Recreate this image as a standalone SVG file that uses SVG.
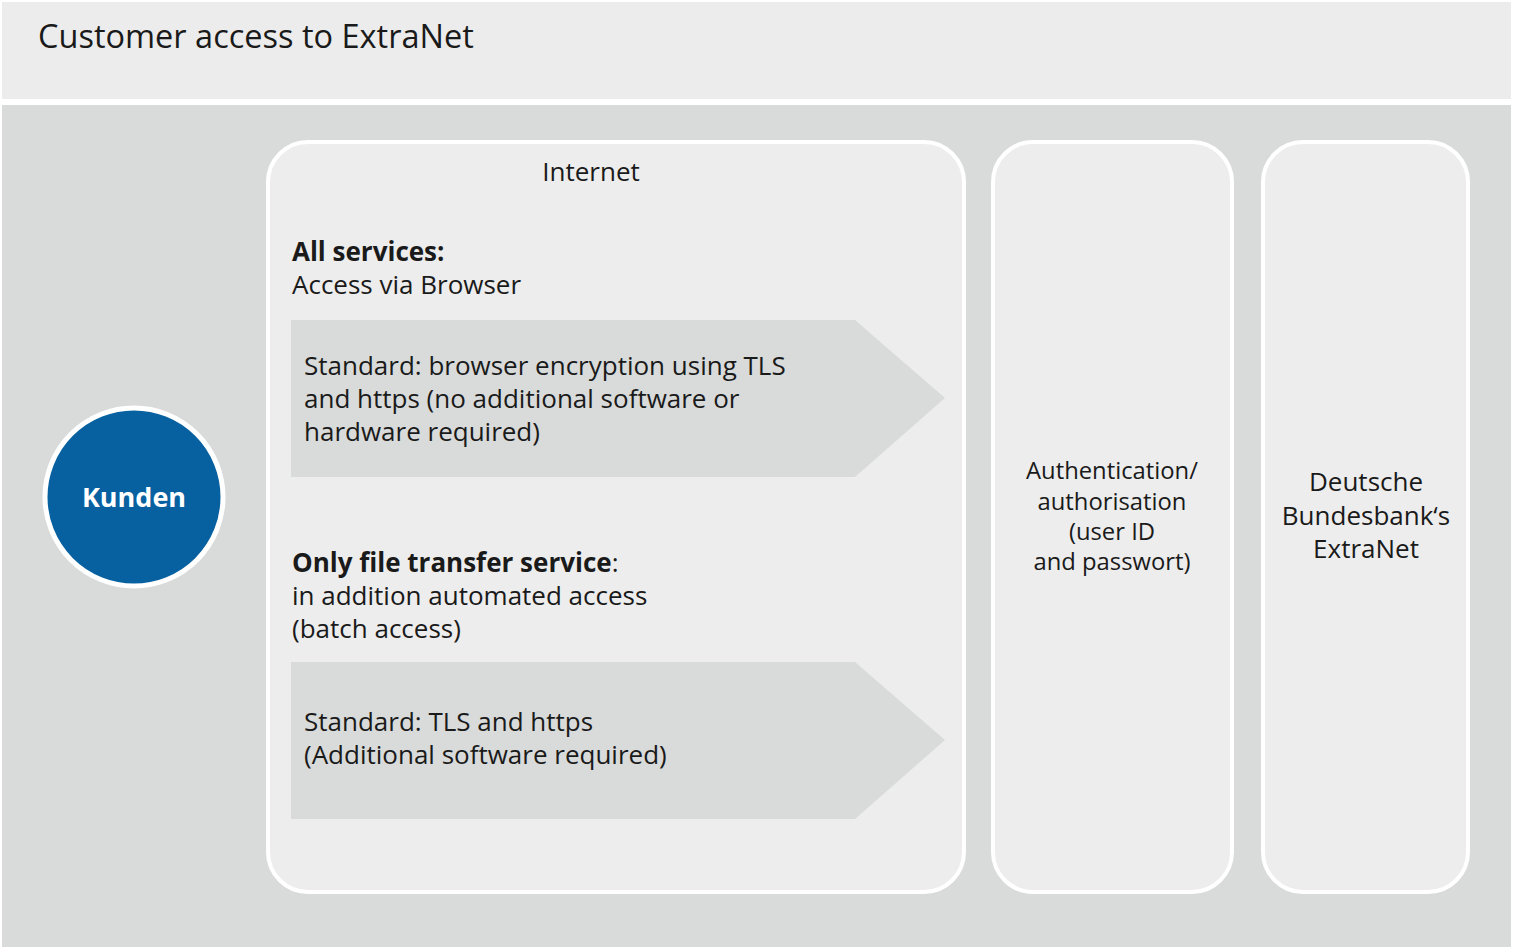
<svg xmlns="http://www.w3.org/2000/svg" width="1513" height="949" viewBox="0 0 1513 949">
<style>
text{font-family:"Open Sans","Noto Sans",sans-serif;fill:#1a1a1a;font-size:26px}
.b{font-weight:bold}
.box{fill:#ededed;stroke:#fff;stroke-width:4}
.arr{fill:#d9dbda}
.c{text-anchor:middle}
</style>
<rect x="0" y="0" width="1513" height="949" fill="#fff"/>
<rect x="2" y="2" width="1509" height="97" fill="#ececec"/>
<rect x="2" y="105" width="1509" height="842" fill="#d9dbda"/>
<text x="38" y="48" style="font-size:32.5px">Customer access to ExtraNet</text>
<g id="kunden">
<circle cx="134" cy="497" r="89" fill="#0761a1" stroke="#fff" stroke-width="5"/>
<text x="134" y="507" class="c b" style="fill:#fff;font-size:27px">Kunden</text>
</g>
<g id="internet">
<rect class="box" x="268" y="142" width="696" height="750" rx="40"/>
<text x="591" y="181" class="c">Internet</text>
<text x="292" y="261"><tspan class="b">All services:</tspan><tspan x="292" dy="33">Access via Browser</tspan></text>
<text x="292" y="572"><tspan class="b">Only file transfer service</tspan>:<tspan x="292" dy="33">in addition automated access</tspan><tspan x="292" dy="33">(batch access)</tspan></text>
</g>
<g id="arrow1">
<polygon class="arr" points="291,320 855,320 945,398 855,477 291,477"/>
<text x="304" y="375">Standard: browser encryption using TLS<tspan x="304" dy="33">and https (no additional software or</tspan><tspan x="304" dy="33">hardware required)</tspan></text>
</g>
<g id="arrow2">
<polygon class="arr" points="291,662 855,662 945,740 855,819 291,819"/>
<text x="304" y="731">Standard: TLS and https<tspan x="304" dy="33">(Additional software required)</tspan></text>
</g>
<g id="auth">
<rect class="box" x="993" y="142" width="239" height="750" rx="40"/>
<text x="1112" y="479" class="c" style="font-size:23.8px">Authentication/<tspan x="1112" dy="31">authorisation</tspan><tspan x="1112" dy="30">(user ID</tspan><tspan x="1112" dy="30">and passwort)</tspan></text>
</g>
<g id="bundesbank">
<rect class="box" x="1263" y="142" width="205" height="750" rx="40"/>
<text x="1366" y="491" class="c">Deutsche<tspan x="1366" dy="34">Bundesbank‘s</tspan><tspan x="1366" dy="33">ExtraNet</tspan></text>
</g>
<g id="connectors"></g>
</svg>
